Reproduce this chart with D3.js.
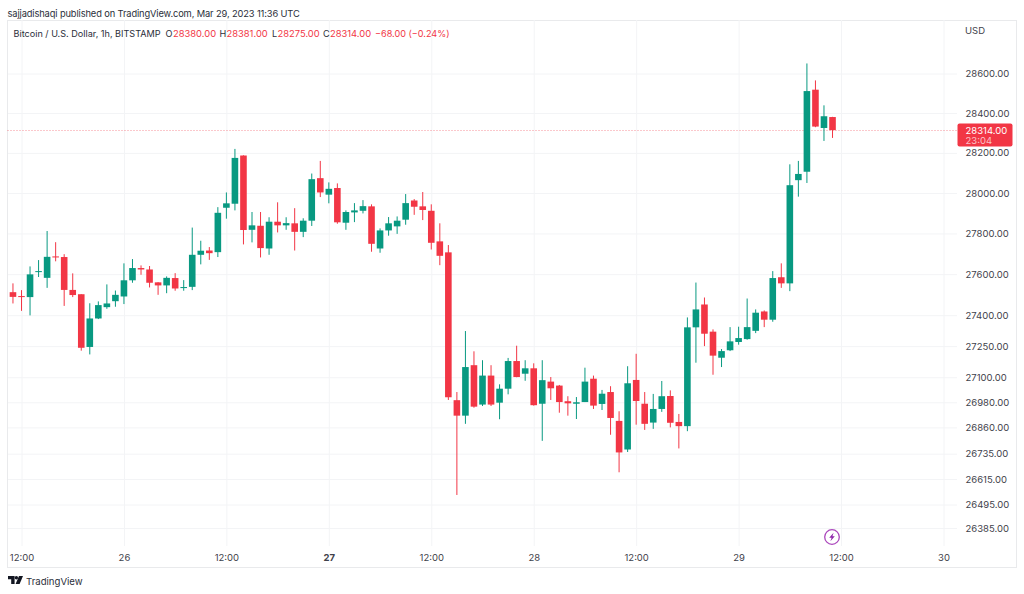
<!DOCTYPE html>
<html>
<head>
<meta charset="utf-8">
<script src="https://d3js.org/d3.v7.min.js"></script>
<style>
  html, body { margin: 0; padding: 0; background: #fff; }
  svg { display: block; }
  text { font-family: Inter, "Noto Sans", sans-serif; }
</style>
</head>
<body>
<div id="chart"></div>
<script>
// hourly candles, first one is 25 Mar 2023 11:00 UTC
var firstCandle = Date.UTC(2023, 2, 25, 11);

var opens = [
  27512,27493,27488,27610,27582,27687,27684,27523,27502,27246,
  27384,27439,27468,27491,27570,27630,27623,27560,27545,27581,
  27532,27538,27695,27716,27708,27927,27947,28187,27818,27838,
  27726,27858,27840,27850,27808,27863,28074,27992,28025,27853,
  27904,27912,27934,27726,27815,27835,27868,27963,27934,27912,
  27761,27707,26990,26916,27158,26969,27108,26978,27045,27178,
  27117,27143,26973,27079,27060,26985,26973,26981,27093,26972,
  27029,26891,26755,27087,26973,26883,26948,27010,26886,26866,
  27341,27452,27320,27194,27230,27270,27284,27324,27418,27378,
  27585,27555,28064,28106,28518,28325,28380
];
var highs = [
  27555,27522,27638,27669,27812,27757,27698,27604,27502,27458,
  27467,27550,27520,27653,27674,27643,27640,27561,27589,27605,
  27571,27829,27764,27733,27930,28003,28220,28188,27906,27906,
  27880,27954,27880,27925,27875,28097,28160,28053,28048,27914,
  27950,27965,27944,27825,27881,27884,27995,27970,28005,27944,
  27850,27743,27029,27323,27225,27182,27158,27066,27193,27252,
  27182,27167,27182,27101,27063,27009,27005,27146,27108,27039,
  27057,26937,27153,27213,27029,27020,27082,27037,26924,27389,
  27559,27486,27331,27236,27342,27344,27481,27428,27423,27615,
  27653,28143,28160,28651,28565,28439,28381
];
var lows = [
  27457,27421,27399,27586,27533,27663,27445,27488,27228,27210,
  27381,27431,27441,27454,27558,27597,27535,27499,27507,27519,
  27519,27522,27648,27670,27684,27873,27914,27746,27756,27682,
  27695,27805,27818,27716,27782,27837,27980,27949,27848,27818,
  27856,27899,27710,27705,27789,27798,27843,27892,27866,27721,
  27644,26991,26540,26877,26954,26962,26962,26899,27018,27100,
  27083,26964,26796,26991,26930,26916,26900,26981,26948,26943,
  26825,26647,26743,26873,26848,26853,26934,26860,26760,26842,
  27170,27250,27112,27149,27226,27257,27281,27313,27342,27368,
  27533,27517,27982,28050,28329,28260,28275
];
var closes = [
  27489,27488,27599,27615,27685,27682,27523,27498,27242,27384,
  27449,27457,27499,27570,27630,27623,27558,27545,27582,27530,
  27537,27695,27715,27703,27902,27949,28175,27817,27840,27728,
  27858,27840,27851,27808,27863,28069,28003,28021,27855,27906,
  27914,27935,27749,27815,27850,27863,27950,27932,27916,27754,
  27690,27004,26916,27149,26959,27108,26969,27045,27178,27101,
  27143,26966,27086,27047,26981,26975,26980,27079,26964,27021,
  26905,26741,27071,26986,26877,26948,27009,26882,26866,27341,
  27428,27310,27204,27226,27273,27289,27342,27412,27378,27581,
  27555,28039,28095,28511,28332,28384,28314
];

var priceTicks = [28600,28400,28200,28000,27800,27600,27400,27250,27100,26980,26860,26735,26615,26495,26385];

var timeTicks = [
  Date.UTC(2023,2,25,12), Date.UTC(2023,2,26,0), Date.UTC(2023,2,26,12),
  Date.UTC(2023,2,27,0),  Date.UTC(2023,2,27,12), Date.UTC(2023,2,28,0),
  Date.UTC(2023,2,28,12), Date.UTC(2023,2,29,0),  Date.UTC(2023,2,29,12),
  Date.UTC(2023,2,30,0)
];
var timeLabels = ["12:00","26","12:00","27","12:00","28","12:00","29","12:00","30"];

var lastPrice = 28314;
var countdown = "23:04";

var green = "#089981", red = "#f23645", gridColor = "#f3f4f6", frameColor = "#e9eaec",
    textColor = "#3f424b";

var svg = d3.select("#chart").append("svg")
  .attr("width", 1024)
  .attr("height", 594);

var x = d3.scaleUtc()
  .domain([timeTicks[0], timeTicks[timeTicks.length - 1]])
  .range([21.5, 943.5]);

var y = d3.scaleLog()
  .domain([26385, 28600])
  .range([528, 73.5]);

// published line
svg.append("text")
  .attr("x", 7.5).attr("y", 17)
  .attr("font-size", 9.3).attr("letter-spacing", -0.12).attr("fill", "#2a2e39")
  .text("sajjadishaqi published on TradingView.com, Mar 29, 2023 11:36 UTC");

// frame
svg.append("rect")
  .attr("x", 7.5).attr("y", 20.5)
  .attr("width", 1009).attr("height", 547)
  .attr("fill", "none").attr("stroke", frameColor);

// grid and labels come from the axes
var yAxis = d3.axisRight(y)
  .tickValues(priceTicks)
  .tickFormat(d3.format(".2f"))
  .tickSizeInner(-949)
  .tickSizeOuter(0)
  .tickPadding(8.5);

var xAxis = d3.axisBottom(x)
  .tickValues(timeTicks)
  .tickFormat(function(d, i) { return timeLabels[i]; })
  .tickSizeInner(-526)
  .tickSizeOuter(0)
  .tickPadding(8.5);

var gy = svg.append("g").attr("transform", "translate(957,0)").call(yAxis);
var gx = svg.append("g").attr("transform", "translate(0,546)").call(xAxis);

[gy, gx].forEach(function(g) {
  g.select(".domain").remove();
  g.selectAll("line").attr("stroke", gridColor);
  g.selectAll("text")
    .attr("fill", textColor)
    .attr("font-size", 9.5)
    .style("font-family", "Inter, sans-serif");
});
gx.selectAll("text").filter(function(d, i) { return timeLabels[i] == "27"; })
  .attr("font-weight", 700);

// last price line
svg.append("line")
  .attr("x1", 7.5).attr("x2", 957)
  .attr("y1", Math.round(y(lastPrice)) + 0.5).attr("y2", Math.round(y(lastPrice)) + 0.5)
  .attr("stroke", red).attr("stroke-opacity", 0.55)
  .attr("stroke-dasharray", "1 2");

// candles
var candles = d3.range(opens.length).map(function(i) {
  return {
    t: firstCandle + i * 3600000,
    o: opens[i], h: highs[i], l: lows[i], c: closes[i]
  };
});
var bodyWidth = 6.6;

var candle = svg.append("g").selectAll("g")
  .data(candles)
  .join("g")
  .attr("fill", function(d) { return d.c >= d.o ? green : red; })
  .attr("stroke", function(d) { return d.c >= d.o ? green : red; });

candle.append("line")
  .attr("x1", function(d) { return x(d.t); })
  .attr("x2", function(d) { return x(d.t); })
  .attr("y1", function(d) { return y(d.h); })
  .attr("y2", function(d) { return y(d.l); })
  .attr("stroke-width", 1);

candle.append("rect")
  .attr("x", function(d) { return x(d.t) - bodyWidth / 2; })
  .attr("y", function(d) { return y(Math.max(d.o, d.c)); })
  .attr("width", bodyWidth)
  .attr("height", function(d) { return Math.max(1, Math.abs(y(d.o) - y(d.c))); })
  .attr("stroke", "none");

// legend row
var legend = svg.append("text")
  .attr("y", 36.5)
  .attr("font-size", 9.1)
  .attr("fill", "#2a2e39");
legend.append("tspan").attr("x", 13.5).text("Bitcoin / U.S. Dollar, 1h, BITSTAMP");
[
  [165.5, "O", 173, "28380.00"],
  [219.5, "H", 226.5, "28381.00"],
  [272, "L", 277.5, "28275.00"],
  [323, "C", 330, "28314.00"]
].forEach(function(r) {
  legend.append("tspan").attr("x", r[0]).text(r[1]);
  legend.append("tspan").attr("x", r[2]).attr("fill", red).attr("font-size", 9.4).text(r[3]);
});
legend.append("tspan").attr("x", 375).attr("fill", red).text("\u221268.00 (\u22120.24%)");

svg.append("text")
  .attr("x", 965).attr("y", 34)
  .attr("font-size", 9.5).attr("fill", textColor)
  .text("USD");

// price tag on the axis
svg.append("rect")
  .attr("x", 957.5).attr("y", 123.5)
  .attr("width", 55).attr("height", 23).attr("rx", 2)
  .attr("fill", red);
svg.append("text")
  .attr("x", 965.5).attr("y", y(lastPrice) + 3.5)
  .attr("font-size", 9.5).attr("fill", "#fff")
  .text(d3.format(".2f")(lastPrice));
svg.append("text")
  .attr("x", 965.5).attr("y", 144)
  .attr("font-size", 9.5).attr("fill", "#fff").attr("fill-opacity", 0.7)
  .text(countdown);

// the lightning badge
var badge = svg.append("g").attr("transform", "translate(832,537)");
badge.append("circle").attr("r", 7.3)
  .attr("fill", "#fff").attr("stroke", "#ab47bc").attr("stroke-width", 1.3);
badge.append("path")
  .attr("d", "M1.6,-4.2 L-2.8,0.7 L-0.4,0.7 L-1.6,4.2 L2.8,-0.7 L0.4,-0.7 Z")
  .attr("fill", "#8e24aa");

// TradingView mark
var logo = svg.append("g").attr("transform", "translate(8,576)").attr("fill", "#131722");
logo.append("path").attr("d", "M0,0 H6.6 V8 H3.2 V3.3 H0 Z");
logo.append("circle").attr("cx", 8.4).attr("cy", 1.7).attr("r", 1.7);
logo.append("path").attr("d", "M11,0 H15 L11.6,8 H7.6 Z");
svg.append("text")
  .attr("x", 26).attr("y", 584.5)
  .attr("font-size", 9.6).attr("fill", "#2a2e39")
  .text("TradingView");
</script>
</body>
</html>
